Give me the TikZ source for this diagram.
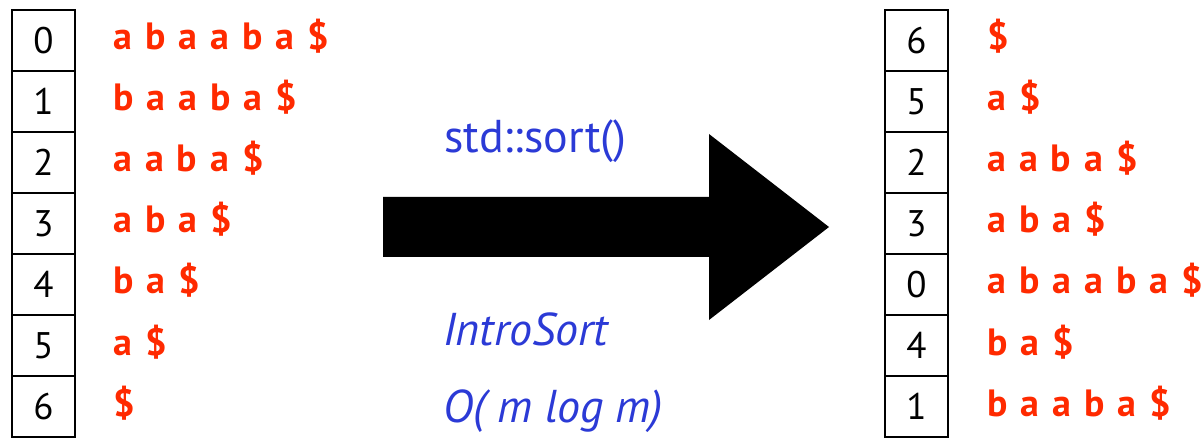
\documentclass[tikz,border=0pt]{standalone}
\usepackage{fontspec}
\setmainfont{PT Sans}
\newfontfamily\suffont[WordSpace=1.35]{PT Sans}
\definecolor{sufred}{HTML}{FF2A00}
\definecolor{algblue}{HTML}{2B3AD6}
\begin{document}
\begin{tikzpicture}[x=1pt,y=-1pt,
  cell/.style={draw=black,line width=2pt,minimum width=63pt,minimum height=61pt,inner sep=0pt,anchor=north west,font=\fontsize{37}{40}\selectfont},
  suf/.style={anchor=base west,inner sep=0pt,text=sufred,font=\fontsize{38}{42}\suffont\bfseries},
  alg/.style={anchor=base west,inner sep=0pt,text=algblue,font=\fontsize{46}{50}\selectfont}]
\useasboundingbox (0,0) rectangle (1204,438);
% left column
\foreach \i/\n/\s in {0/0/{a b a a b a \$},1/1/{b a a b a \$},2/2/{a a b a \$},3/3/{a b a \$},4/4/{b a \$},5/5/{a \$},6/6/{\$}}{
  \node[cell] (L\i) at (11,9+61*\i) {\n};
  \node[suf] (LS\i) at (113,50+61*\i) {\s};
}
% right column
\foreach \i/\n/\s in {0/6/{\$},1/5/{a \$},2/2/{a a b a \$},3/3/{a b a \$},4/0/{a b a a b a \$},5/4/{b a \$},6/1/{b a a b a \$}}{
  \node[cell] (R\i) at (884,9+61*\i) {\n};
  \node[suf] (RS\i) at (987,50+61*\i) {\s};
}
% big arrow
\fill[black] (383,197) -- (709,197) -- (709,134) -- (829,227) -- (709,320) -- (709,257) -- (383,257) -- cycle;
\node[alg] (sort) at (444,153) {std::sort()};
\node[alg] (intro) at (443,345) {\itshape IntroSort};
\node[alg] (cplx) at (443,422) {\itshape O( m log m)};
\end{tikzpicture}
\end{document}
